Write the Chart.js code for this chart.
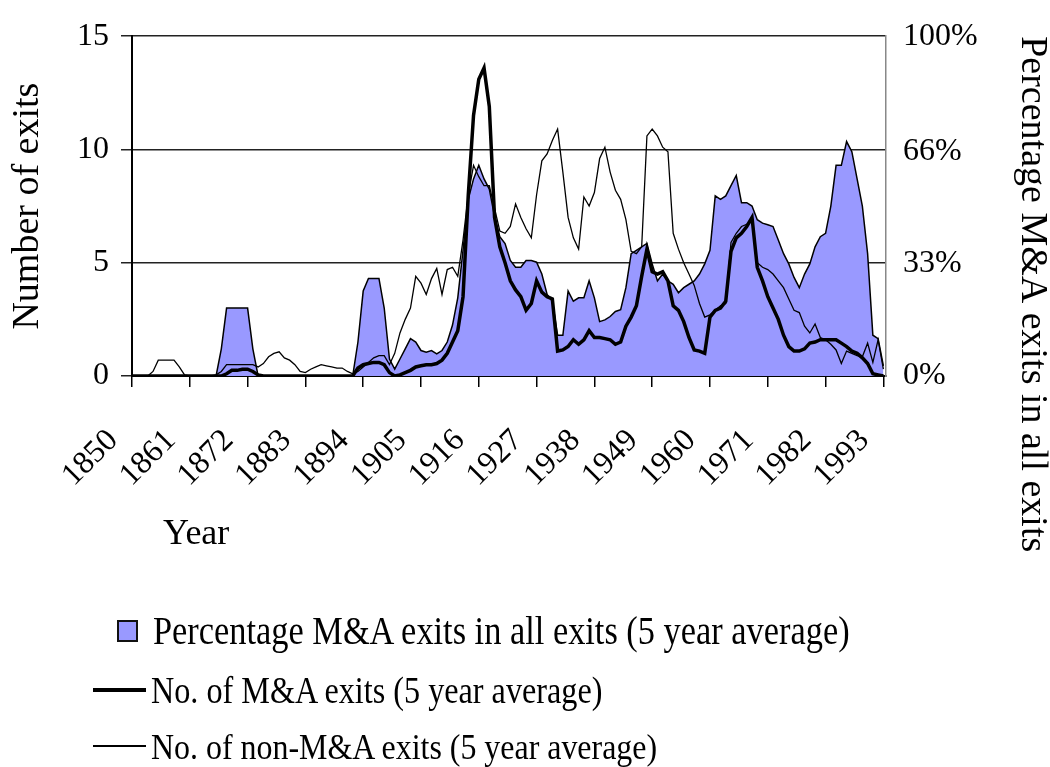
<!DOCTYPE html>
<html>
<head>
<meta charset="utf-8">
<script src="https://cdn.jsdelivr.net/npm/chart.js@4.4.1/dist/chart.umd.min.js"></script>
<style>
  html, body { margin: 0; padding: 0; background: #fff; }
  #wrap { position: relative; width: 1050px; height: 767px; }
  #legend { position: absolute; left: 0; top: 0; width: 1050px; height: 767px; pointer-events: none; }
  .item { position: absolute; height: 40px; display: flex; align-items: center; }
  .item span { font-family: "Liberation Serif", "Times New Roman", serif; font-size: 37px; color: #000;
               white-space: nowrap; transform: scaleX(0.87); transform-origin: left center; }
</style>
</head>
<body>
<div id="wrap">
  <canvas id="chart" width="1050" height="767"></canvas>
  <div id="legend"></div>
</div>
<script>
// yearly categories
const years = Array.from({ length: 144 }, (_, i) => 1850 + i);
const tick_years = [1850, 1861, 1872, 1883, 1894, 1905, 1916, 1927, 1938, 1949, 1960, 1971, 1982, 1993];
const pct_ticks = [0, 33, 66, 100];
const count_ticks = [0, 5, 10, 15];

// Percentage M&A exits in all exits (5 year average), in %
const pct_mna = [
  0, 0, 0, 0, 0, 0, 0, 0, 0, 0, 0, 0, 0, 0, 0, 0, 0,
  8, 20, 20, 20, 20, 20, 8,
  0, 0, 0, 0, 0, 0, 0, 0, 0, 0, 0, 0, 0, 0, 0, 0, 0, 0, 0,
  10, 25, 28.7, 28.7, 28.7, 20, 5,
  2, 5, 8, 11, 10, 7.5, 7, 7.5, 6.5, 7.5,
  10, 15, 23, 37, 52, 58, 62, 58, 55, 47,
  41, 39, 34, 32, 32, 34, 34, 33.5, 30, 24,
  22, 12, 12, 25, 22, 23, 23, 28, 23, 16,
  16.5, 17.5, 19, 19.5, 26, 36, 37, 38, 39, 33,
  28, 30, 28, 27, 24.5, 26, 27, 28, 30, 33,
  37, 53, 52, 53, 56, 59, 51, 51, 50, 46,
  45, 44.5, 44, 40, 36, 33, 29, 26, 30, 33,
  38, 41, 42, 50, 62, 62, 69, 66, 58, 50,
  36, 12, 11, 3
];

// No. of M&A exits (5 year average)
const mna_exits = [
  0, 0, 0, 0, 0, 0, 0, 0, 0, 0, 0, 0, 0, 0, 0, 0, 0, 0,
  0.1, 0.25, 0.25, 0.3, 0.3, 0.2, 0.05,
  0, 0, 0, 0, 0, 0, 0, 0, 0, 0, 0, 0, 0, 0, 0, 0, 0, 0,
  0.35, 0.5, 0.55, 0.6, 0.6, 0.5, 0.15,
  0, 0.05, 0.15, 0.25, 0.4, 0.45, 0.5, 0.5, 0.55, 0.7,
  1.0, 1.5, 2.0, 3.5, 8.0, 11.5, 13.1, 13.6, 11.9, 7.0,
  5.7, 5.0, 4.2, 3.8, 3.5, 2.9, 3.2, 4.2, 3.7, 3.5,
  3.4, 1.1, 1.15, 1.3, 1.6, 1.4, 1.6, 2.0, 1.7, 1.7,
  1.65, 1.6, 1.4, 1.5, 2.2, 2.6, 3.1, 4.4, 5.6, 4.6,
  4.5, 4.6, 4.2, 3.1, 2.9, 2.4, 1.7, 1.15, 1.1, 1.0,
  2.6, 2.9, 3.0, 3.3, 5.5, 6.1, 6.3, 6.6, 7.0, 4.8,
  4.2, 3.5, 3.0, 2.5, 1.8, 1.3, 1.1, 1.1, 1.2, 1.45,
  1.5, 1.6, 1.6, 1.6, 1.6, 1.45, 1.3, 1.1, 1.0, 0.8,
  0.55, 0.1, 0.05, 0
];

// No. of non-M&A exits (5 year average)
const non_mna_exits = [
  0, 0, 0, 0,
  0.2, 0.7, 0.7, 0.7, 0.7, 0.4, 0.05,
  0, 0, 0, 0, 0,
  0.05, 0.2, 0.5, 0.5, 0.5, 0.5, 0.5, 0.5, 0.4,
  0.55, 0.85, 1.0, 1.07, 0.8, 0.7, 0.5, 0.2, 0.15, 0.3,
  0.4, 0.5, 0.45, 0.4, 0.35, 0.35, 0.2, 0.1,
  0.2, 0.4, 0.6, 0.8, 0.9, 0.9, 0.5,
  1.0, 1.9, 2.5, 3.0, 4.4, 4.1, 3.6, 4.3, 4.75, 3.6,
  4.7, 4.8, 4.4, 6.0, 8.0, 9.3, 8.8, 8.4, 8.4, 7.4,
  6.4, 6.3, 6.6, 7.6, 7.0, 6.5, 6.1, 8.0, 9.5, 9.8,
  10.4, 10.9, 9.0, 7.0, 6.1, 5.6, 7.9, 7.5, 8.1, 9.6,
  10.1, 9.0, 8.2, 7.8, 6.9, 5.5, 5.4, 5.7, 10.6, 10.9,
  10.6, 10.1, 9.9, 6.3, 5.6, 5.0, 4.5, 4.0, 3.2, 2.6,
  2.7, 2.9, 3.1, 3.2, 5.9, 6.3, 6.6, 6.7, 6.9, 5.0,
  4.8, 4.7, 4.5, 4.2, 3.9, 3.4, 2.9, 2.8, 2.2, 1.9,
  2.3, 1.7, 1.6, 1.4, 1.15, 0.55, 1.1, 1.0, 0.9, 0.85,
  1.45, 0.6, 1.6, 0.3
];

const serif = '"Liberation Serif", "Times New Roman", serif';
Chart.defaults.font.family = serif;
Chart.defaults.color = '#000';

// "Year" is placed under the first labels, as in the original
const year_title = {
  id: 'year_title',
  afterDraw(chart) {
    const ctx = chart.ctx;
    ctx.save();
    ctx.font = '36px ' + serif;
    ctx.fillStyle = '#000';
    ctx.textBaseline = 'alphabetic';
    ctx.fillText('Year', 163, 544);
    ctx.restore();
  }
};

const canvas = document.getElementById('chart');

let chart = new Chart(canvas, {
  type: 'line',
  data: {
    labels: years,
    datasets: [
      {
        label: 'Percentage M&A exits in all exits (5 year average)',
        data: pct_mna,
        yAxisID: 'y2',
        borderColor: '#000',
        borderWidth: 1.5,
        backgroundColor: '#9999ff',
        fill: 'origin',
        pointRadius: 0,
        tension: 0,
        order: 3
      },
      {
        label: 'No. of M&A exits (5 year average)',
        data: mna_exits,
        yAxisID: 'y',
        borderColor: '#000',
        borderWidth: 3.5,
        fill: false,
        pointRadius: 0,
        tension: 0,
        order: 1
      },
      {
        label: 'No. of non-M&A exits (5 year average)',
        data: non_mna_exits,
        yAxisID: 'y',
        borderColor: '#000',
        borderWidth: 1.3,
        fill: false,
        pointRadius: 0,
        tension: 0,
        order: 2
      }
    ]
  },
  options: {
    responsive: false,
    animation: false,
    devicePixelRatio: 1,
    layout: { padding: { top: 36, left: 0, right: 0, bottom: 0 } },
    plugins: { legend: { display: false }, tooltip: { enabled: false } },
    scales: {
      x: {
        type: 'linear',
        min: 1850,
        max: 1993.5,
        afterBuildTicks: (s) => { s.ticks = tick_years.map(v => ({ value: v })); },
        afterFit: (s) => { s.height = 391; },
        ticks: {
          autoSkip: false,
          minRotation: 45,
          maxRotation: 45,
          padding: 35,
          labelOffset: -19,
          font: { size: 32 },
          callback: (v) => String(v)
        },
        grid: { drawOnChartArea: false, drawTicks: true, tickLength: 11, color: '#000', lineWidth: 1.5 },
        border: { display: true, color: '#000', width: 2 }
      },
      y: {
        position: 'left',
        min: 0,
        max: 15,
        afterBuildTicks: (s) => { s.ticks = count_ticks.map(v => ({ value: v })); },
        afterFit: (s) => { s.width = 132; },
        ticks: { padding: 12, font: { size: 32 } },
        grid: { color: '#222', lineWidth: 1.5, tickLength: 11 },
        border: { display: true, color: '#000', width: 2 },
        title: {
          display: true,
          text: 'Number of exits',
          font: { size: 38, lineHeight: 0.5 },
          padding: { top: 19, bottom: 0 }
        }
      },
      y2: {
        position: 'right',
        min: 0,
        max: 100,
        afterBuildTicks: (s) => { s.ticks = pct_ticks.map(v => ({ value: v })); },
        afterFit: (s) => { s.width = 164; },
        ticks: { padding: 17, font: { size: 32 }, callback: (v) => v + '%' },
        grid: { display: false, drawTicks: false },
        border: { display: true, color: '#888', width: 1.5 },
        title: {
          display: true,
          text: 'Percentage M&A exits in all exits',
          align: 'end',
          font: { size: 38, lineHeight: 0.5 },
          padding: { top: 9, bottom: 0 }
        }
      }
    }
  },
  plugins: [year_title]
});

// legend below the chart, one row per series
const legend_rows = [
  { top: 611, swatch: 'box', size: 39.5 },
  { top: 670, swatch: 'thick', size: 37 },
  { top: 726, swatch: 'thin', size: 36.7 }
];
const legend = document.getElementById('legend');
chart.data.datasets.forEach((ds, i) => {
  const row = legend_rows[i];
  const item = document.createElement('div');
  item.className = 'item';
  item.style.top = row.top + 'px';
  const mark = document.createElement('div');
  mark.style.position = 'absolute';
  if (row.swatch === 'box') {
    item.style.left = '117px';
    mark.style.cssText += 'left:0;top:9px;width:17px;height:18px;border:2px solid #111;background:' + ds.backgroundColor;
  } else {
    item.style.left = '93px';
    const h = row.swatch === 'thick' ? 4 : 1.5;
    mark.style.cssText += 'left:0;width:53px;background:#000;height:' + h + 'px;top:' + (20 - h / 2) + 'px';
  }
  const text = document.createElement('span');
  text.textContent = ds.label;
  text.style.fontSize = row.size + 'px';
  text.style.marginLeft = (row.swatch === 'box' ? 36 : 58) + 'px';
  item.appendChild(mark);
  item.appendChild(text);
  legend.appendChild(item);
});
</script>
</body>
</html>
